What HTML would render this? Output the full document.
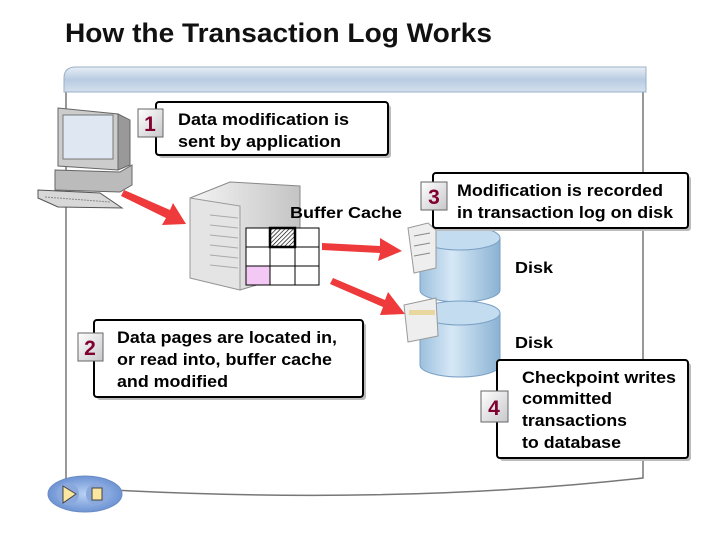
<!DOCTYPE html>
<html><head><meta charset="utf-8"><style>
body{margin:0;background:#fff}
text{font-family:"Liberation Sans",Arial,sans-serif;font-weight:bold}
</style></head><body>
<svg width="720" height="540" xmlns="http://www.w3.org/2000/svg">
<defs>
<linearGradient id="bar" x1="0" y1="0" x2="0" y2="1"><stop offset="0" stop-color="#e8eef6"/><stop offset="0.5" stop-color="#b8cbe2"/><stop offset="1" stop-color="#d4e0ee"/></linearGradient>
<linearGradient id="cyl" x1="0" y1="0" x2="1" y2="0"><stop offset="0" stop-color="#9cc0de"/><stop offset="0.4" stop-color="#d6e8f6"/><stop offset="1" stop-color="#8ab2d4"/></linearGradient>
<linearGradient id="badge" x1="0" y1="0" x2="1" y2="1"><stop offset="0" stop-color="#fff"/><stop offset="1" stop-color="#c8c8cc"/></linearGradient>
<linearGradient id="srv" x1="0" y1="0" x2="1" y2="0"><stop offset="0" stop-color="#f4f4f4"/><stop offset="1" stop-color="#c4c4c4"/></linearGradient>
<radialGradient id="oval"><stop offset="0" stop-color="#b8d0f4"/><stop offset="1" stop-color="#6e94d4"/></radialGradient>
<pattern id="hatch" width="3" height="3" patternUnits="userSpaceOnUse" patternTransform="rotate(45)"><rect width="3" height="3" fill="#fff"/><line x1="0" y1="0" x2="0" y2="3" stroke="#000" stroke-width="1.3"/></pattern>
</defs>
<text x="65" y="42" font-size="27" fill="#111" textLength="427" lengthAdjust="spacingAndGlyphs">How the Transaction Log Works</text>
<!-- panel -->
<path d="M66 80 L66 497 M643 92 L643 478 Q400 505 112 490" fill="none" stroke="#777" stroke-width="1.5"/>
<path d="M64 92 L64 78 Q64 67 76 67 L646 67 L646 92 Z" fill="url(#bar)" stroke="#9ab0c8"/>
<!-- computer -->
<g>
<path d="M58 108 L118 114 L118 170 L58 166 Z" fill="#ccc" stroke="#666"/>
<rect x="63" y="115" width="50" height="44" fill="#dfe8f2" stroke="#777"/>
<path d="M118 114 L130 120 L130 165 L118 170Z" fill="#999" stroke="#666"/>
<path d="M55 170 L120 172 L132 165 L132 185 L120 192 L55 190 Z" fill="#bbb" stroke="#666"/>
<path d="M38 190 L100 193 L122 208 L58 207 L38 198Z" fill="#d8d8d8" stroke="#555"/>
<line x1="45" y1="197" x2="110" y2="202" stroke="#888" stroke-dasharray="2 1"/>
</g>
<!-- server -->
<path d="M190 198 L230 182 L300 186 L300 272 L240 290 L190 278 Z" fill="url(#srv)" stroke="#888"/>
<path d="M190 198 L240 206 L240 290 L190 278Z" fill="#e4e4e4" stroke="#999"/>
<g stroke="#aaa"><line x1="210" y1="215" x2="238" y2="218"/><line x1="210" y1="225" x2="238" y2="228"/><line x1="210" y1="235" x2="238" y2="238"/><line x1="210" y1="245" x2="238" y2="248"/><line x1="210" y1="255" x2="238" y2="258"/><line x1="210" y1="265" x2="238" y2="268"/></g>
<!-- grid -->
<rect x="246" y="228" width="73" height="57" fill="#fff" stroke="#000"/>
<rect x="246" y="266" width="24" height="19" fill="#f4c8f4"/>
<rect x="270" y="228" width="25" height="19" fill="url(#hatch)" stroke="#000" stroke-width="2.5"/>
<g stroke="#000"><line x1="270" y1="228" x2="270" y2="285"/><line x1="295" y1="228" x2="295" y2="285"/><line x1="246" y1="247" x2="319" y2="247"/><line x1="246" y1="266" x2="319" y2="266"/><rect x="246" y="228" width="73" height="57" fill="none"/></g>
<text x="290" y="218" font-size="16" fill="#000" textLength="112" lengthAdjust="spacingAndGlyphs">Buffer Cache</text>
<!-- arrows -->
<g fill="#ee3a3a">
<path d="M124 190 L170 210 L173 203 L186 224 L162 225 L166 218 L121 196Z"/>
<path d="M322 243 L380 246 L380 238 L402 251 L378 261 L380 253 L322 250Z"/>
<path d="M333 278 L385 300 L388 292 L405 314 L380 315 L383 307 L330 284Z"/>
</g>
<!-- disks -->
<g stroke="#7aa0c4">
<path d="M420 238 L420 290 A40 12 0 0 0 500 290 L500 238" fill="url(#cyl)"/>
<ellipse cx="460" cy="238" rx="40" ry="12" fill="#c4dcf0"/>
<path d="M420 313 L420 365 A40 12 0 0 0 500 365 L500 313" fill="url(#cyl)"/>
<ellipse cx="460" cy="313" rx="40" ry="12" fill="#c4dcf0"/>
</g>
<path d="M408 228 L428 223 L436 230 L436 268 L414 273 Z" fill="#eee" stroke="#999"/>
<g stroke="#888"><line x1="414" y1="236" x2="430" y2="233"/><line x1="414" y1="246" x2="430" y2="243"/><line x1="414" y1="256" x2="430" y2="253"/></g>
<path d="M404 305 L436 298 L438 336 L408 342 Z" fill="#eee" stroke="#999"/>
<rect x="409" y="310" width="26" height="5" fill="#e8d8a0"/>
<text x="515" y="273" font-size="16" textLength="38" lengthAdjust="spacingAndGlyphs">Disk</text>
<text x="515" y="348" font-size="16" textLength="38" lengthAdjust="spacingAndGlyphs">Disk</text>
<!-- boxes -->
<g stroke="#000" stroke-width="2" fill="#fff">
<rect x="159" y="105" width="232" height="53" rx="3" fill="#bbb" stroke="none"/>
<rect x="156" y="102" width="232" height="53" rx="3"/>
<rect x="436" y="176" width="255" height="55" rx="3" fill="#bbb" stroke="none"/>
<rect x="433" y="173" width="255" height="55" rx="3"/>
<rect x="97" y="323" width="269" height="77" rx="3" fill="#bbb" stroke="none"/>
<rect x="94" y="320" width="269" height="77" rx="3"/>
<rect x="500" y="363" width="191" height="98" rx="3" fill="#bbb" stroke="none"/>
<rect x="497" y="360" width="191" height="98" rx="3"/>
</g>
<g stroke="#666" fill="url(#badge)">
<rect x="138" y="109" width="25" height="28"/>
<rect x="421" y="182" width="26" height="28"/>
<rect x="78" y="333" width="25" height="28"/>
<rect x="481" y="391" width="27" height="31"/>
</g>
<g font-size="21" fill="#800030" text-anchor="middle">
<text x="150" y="131">1</text><text x="434" y="204">3</text><text x="90" y="355">2</text><text x="494" y="415">4</text>
</g>
<g font-size="17" fill="#000" lengthAdjust="spacingAndGlyphs">
<text x="178" y="125" textLength="171" lengthAdjust="spacingAndGlyphs">Data modification is</text>
<text x="178" y="147" textLength="163" lengthAdjust="spacingAndGlyphs">sent by application</text>
<text x="457" y="196" textLength="206" lengthAdjust="spacingAndGlyphs">Modification is recorded</text>
<text x="457" y="218" textLength="216" lengthAdjust="spacingAndGlyphs">in transaction log on disk</text>
<text x="117" y="343" textLength="220" lengthAdjust="spacingAndGlyphs">Data pages are located in,</text>
<text x="117" y="365" textLength="215" lengthAdjust="spacingAndGlyphs">or read into, buffer cache</text>
<text x="117" y="387" textLength="111" lengthAdjust="spacingAndGlyphs">and modified</text>
<text x="522" y="383" textLength="154" lengthAdjust="spacingAndGlyphs">Checkpoint writes</text>
<text x="522" y="404" textLength="90" lengthAdjust="spacingAndGlyphs">committed</text>
<text x="522" y="426" textLength="105" lengthAdjust="spacingAndGlyphs">transactions</text>
<text x="522" y="448" textLength="99" lengthAdjust="spacingAndGlyphs">to database</text>
</g>
<!-- oval buttons -->
<ellipse cx="85" cy="494" rx="37" ry="18" fill="url(#oval)" stroke="#6a8cc4"/>
<circle cx="68" cy="494" r="11" fill="#8aa8dc"/><circle cx="97" cy="494" r="11" fill="#8aa8dc"/>
<path d="M63 486 L76 494 L63 503Z" fill="#fbe6a0" stroke="#444"/>
<rect x="92" y="488" width="10" height="12" fill="#fbe6a0" stroke="#444"/>
</svg>
</body></html>
